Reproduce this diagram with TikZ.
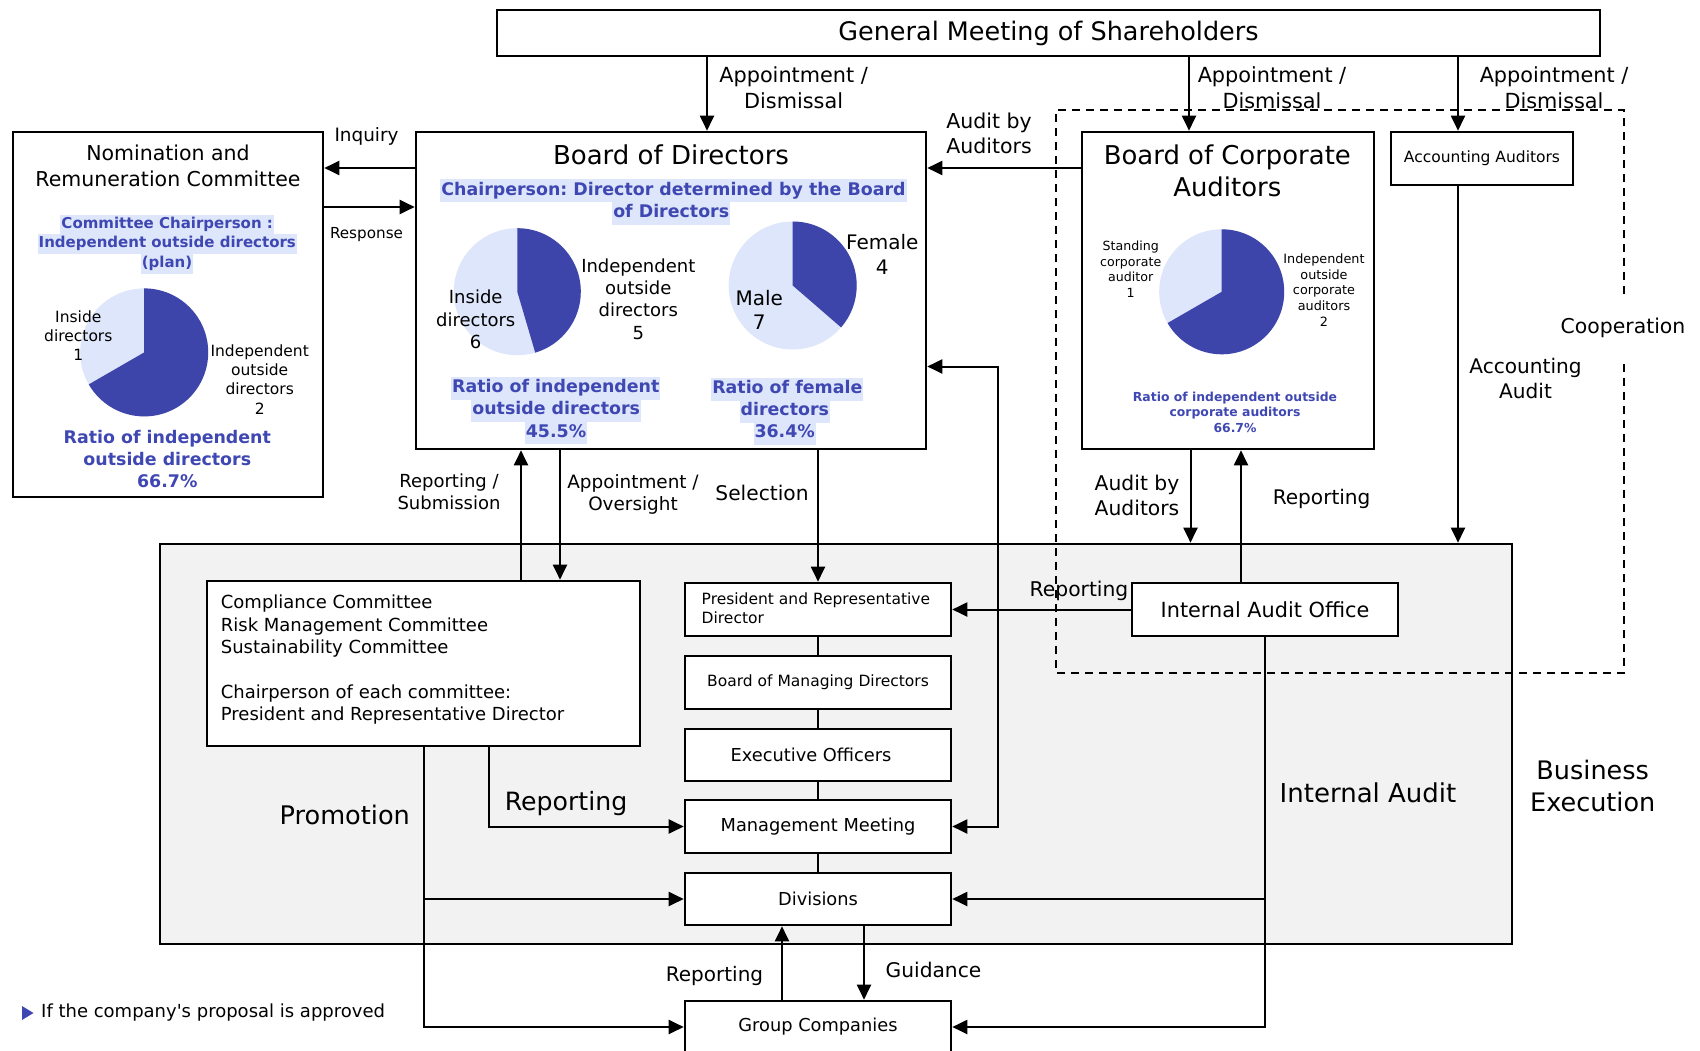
\documentclass[tikz,border=0pt]{standalone}
\usepackage{fontspec}
\setmainfont{DejaVu Sans}
\usetikzlibrary{arrows.meta}
\definecolor{pdark}{HTML}{3D45AA}
\definecolor{plight}{HTML}{DDE6FA}
\definecolor{tblue}{HTML}{3F47B2}
\definecolor{bggray}{HTML}{F2F2F2}
\newcommand\fs[2]{\fontsize{#1}{#2}\selectfont}
\frenchspacing
\begin{document}
\begin{tikzpicture}[x=1pt,y=-1pt,
  box/.style={draw=black, line width=2.6pt, fill=white, inner sep=0pt, align=center},
  lbl/.style={inner sep=0pt, align=center},
  arr/.style={line width=2pt, -{Triangle[length=15pt,width=14pt]}},
  dbl/.style={line width=2pt, {Triangle[length=15pt,width=14pt]}-{Triangle[length=15pt,width=14pt]}},
  ln/.style={line width=2pt},
  dsh/.style={line width=2.4pt, dash pattern=on 8pt off 6pt},
  hltA/.style={fill=plight, text=tblue, font=\bfseries\fs{17.4}{22.3}, inner xsep=1pt, inner ysep=2pt, text height=14pt, text depth=5pt},
  hltB/.style={fill=plight, text=tblue, font=\bfseries\fs{15}{19}, inner xsep=1pt, inner ysep=1.5pt, text height=12pt, text depth=4.5pt},
]
\useasboundingbox (0,0) rectangle (1700,1051);

% column / row helpers
\coordinate (c707) at (707,0);
\coordinate (c1189) at (1189,0);
\coordinate (c1458) at (1458,0);
\coordinate (c521) at (521,0);
\coordinate (c560) at (560,0);
\coordinate (c997) at (997.5,0);
\coordinate (c1190) at (1190.5,0);
\coordinate (c1241) at (1241,0);
\coordinate (c489) at (489,0);
\coordinate (c782) at (782,0);
\coordinate (c864) at (864,0);
\coordinate (r168) at (0,168);
\coordinate (r207) at (0,207);
\coordinate (r366) at (0,366.5);

% business execution area
\node[draw=black, line width=2.6pt, fill=bggray, minimum width=1352, minimum height=400, inner sep=0pt] (exec) at (836,744) {};

% cooperation dashed frame
\draw[dsh] (1624,364) -- (1624,673) -- (1056,673) -- (1056,110) -- (1624,110) -- (1624,295);

% boxes
\node[box, minimum width=1103, minimum height=46, font=\fs{25.5}{30}] (gms) at (1048.5,33) {General Meeting of Shareholders};
\node[box, minimum width=310, minimum height=365] (nrc) at (168,314.5) {};
\node[box, minimum width=510, minimum height=317] (bod) at (671,290.5) {};
\node[box, minimum width=292, minimum height=317] (bca) at (1228,290.5) {};
\node[box, minimum width=182, minimum height=53, font=\fs{15.5}{19}] (aa) at (1482,158.5) {Accounting Auditors};
\node[box, minimum width=433, minimum height=165] (cmt) at (423.5,663.5) {};
\node[box, minimum width=266, minimum height=53] (pres) at (818,609.5) {};
\node[box, minimum width=266, minimum height=53, font=\fs{15.5}{19}] (bmd) at (818,682.5) {Board of Managing Directors};
\node[box, minimum width=266, minimum height=52] (eo) at (818,755) {};
\node[box, minimum width=266, minimum height=53, font=\fs{17.8}{22}] (mm) at (818,826.5) {Management Meeting};
\node[box, minimum width=266, minimum height=52, font=\fs{17.8}{22}] (div) at (818,899) {Divisions};
\node[box, minimum width=266, minimum height=52, font=\fs{17.8}{22}] (gc) at (818,1027) {Group Companies};
\node[box, minimum width=266, minimum height=53, font=\fs{20.8}{25}] (iao) at (1265,609.5) {Internal Audit Office};
\node[lbl, font=\fs{17.8}{22}] (eoT) at (811,755) {Executive Officers};

% Nomination and Remuneration Committee contents
\node[lbl, font=\fs{20.5}{26.7}] (nrcT) at (168,166) {Nomination and\\Remuneration Committee};
\node[hltB] (nrcC1) at (167.2,224.5) {Committee Chairperson :};
\node[hltB] (nrcC2) at (167.3,244) {Independent outside directors};
\node[hltB] (nrcC3) at (167,264) {(plan)};
\coordinate (pnrc) at (144.2,352.4);
\fill[plight] (pnrc) circle[radius=64];
\fill[pdark] (pnrc) -- ++(-90:64) arc[start angle=-90, end angle=150, radius=64] -- cycle;
\node[lbl, font=\fs{15.5}{19.3}] (nrcL1) at (78.3,335.7) {Inside\\directors\\1};
\node[lbl, font=\fs{15.5}{19.3}] (nrcL2) at (259.7,379.2) {Independent\\outside\\directors\\2};
\node[lbl, text=tblue, font=\bfseries\fs{17.4}{22.2}] (nrcR) at (167.3,459.3) {Ratio of independent\\outside directors\\66.7\%};

% Board of Directors contents
\node[lbl, font=\fs{26}{31}] (bodT) at (671,155) {Board of Directors};
\node[hltA] (bodC1) at (673.5,191) {Chairperson: Director determined by the Board};
\node[hltA] (bodC2) at (671.2,213.5) {of Directors};
\coordinate (pbod1) at (517.3,291.7);
\fill[plight] (pbod1) circle[radius=63.5];
\fill[pdark] (pbod1) -- ++(-90:63.5) arc[start angle=-90, end angle=73.6, radius=63.5] -- cycle;
\coordinate (pbod2) at (792.7,285.5);
\fill[plight] (pbod2) circle[radius=64];
\fill[pdark] (pbod2) -- ++(-90:64) arc[start angle=-90, end angle=40.9, radius=64] -- cycle;
\node[lbl, font=\fs{18}{22.2}] (bodL1) at (475.7,319.3) {Inside\\directors\\6};
\node[lbl, font=\fs{18}{22.2}] (bodL2) at (638.3,299) {Independent\\outside\\directors\\5};
\node[lbl, font=\fs{20}{24.3}] (bodL3) at (882.3,254.5) {Female\\4};
\node[lbl, font=\fs{20}{24.3}] (bodL4) at (759.3,310) {Male\\7};
\node[hltA] (bodR1) at (555.8,388) {Ratio of independent};
\node[hltA] (bodR2) at (556.2,410.3) {outside directors};
\node[hltA] (bodR3) at (556,432.6) {45.5\%};
\node[hltA] (bodF1) at (787.3,389) {Ratio of female};
\node[hltA] (bodF2) at (784.8,411.2) {directors};
\node[hltA] (bodF3) at (784.7,433.4) {36.4\%};

% Board of Corporate Auditors contents
\node[lbl, font=\fs{25.9}{31.7}] (bcaT) at (1227.3,171) {Board of Corporate\\Auditors};
\coordinate (pbca) at (1221.7,291.8);
\fill[plight] (pbca) circle[radius=62.5];
\fill[pdark] (pbca) -- ++(-90:62.5) arc[start angle=-90, end angle=150, radius=62.5] -- cycle;
\node[lbl, font=\fs{12.6}{15.7}] (bcaL1) at (1130.7,269.2) {Standing\\corporate\\auditor\\1};
\node[lbl, font=\fs{12.8}{15.7}] (bcaL2) at (1324,290) {Independent\\outside\\corporate\\auditors\\2};
\node[lbl, text=tblue, font=\bfseries\fs{12.4}{15.8}] (bcaR) at (1235,412.3) {Ratio of independent outside\\corporate auditors\\66.7\%};

% committees text
\node[lbl, align=left, anchor=north west, font=\fs{18}{22.3}] (cmtT) at (220.7,595) {Compliance Committee\\Risk Management Committee\\Sustainability Committee\\[22.3pt]Chairperson of each committee:\\President and Representative Director};
\node[lbl, align=left, anchor=west, font=\fs{15.5}{19.5}] (presT) at (701.5,608.2) {President and Representative\\Director};

% connectors
\draw[arr] (gms.south -| c707) -- (bod.north -| c707);
\draw[arr] (gms.south -| c1189) -- (bca.north -| c1189);
\draw[arr] (gms.south -| c1458) -- (aa.north -| c1458);
\draw[arr] (bod.west |- r168) -- (nrc.east |- r168);
\draw[arr] (nrc.east |- r207) -- (bod.west |- r207);
\draw[arr] (bca.west |- r168) -- (bod.east |- r168);
\draw[arr] (cmt.north -| c521) -- (bod.south -| c521);
\draw[arr] (bod.south -| c560) -- (cmt.north -| c560);
\draw[arr] (bod.south -| pres.north) -- (pres.north);
\draw[dbl] (bod.east |- r366) -| (c997 |- mm.east) -- (mm.east);
\draw[arr] (bca.south -| c1190) -- (exec.north -| c1190);
\draw[arr] (iao.north -| c1241) -- (bca.south -| c1241);
\draw[arr] (aa.south -| c1458) -- (exec.north -| c1458);
\draw[arr] (iao.west) -- (pres.east);
\draw[ln] (pres.south) -- (bmd.north);
\draw[ln] (bmd.south) -- (eo.north);
\draw[ln] (eo.south) -- (mm.north);
\draw[ln] (mm.south) -- (div.north);
\draw[arr] (iao.south) |- (gc.east);
\draw[arr] (iao.south |- div.east) -- (div.east);
\draw[arr] (cmt.south) |- (gc.west);
\draw[arr] (cmt.south |- div.west) -- (div.west);
\draw[arr] (cmt.south -| c489) |- (mm.west);
\draw[arr] (gc.north -| c782) -- (div.south -| c782);
\draw[arr] (div.south -| c864) -- (gc.north -| c864);

% labels
\node[lbl, font=\fs{20.8}{26}] (lAD1) at (793.6,88) {Appointment /\\Dismissal};
\node[lbl, font=\fs{20.8}{26}] (lAD2) at (1272,88) {Appointment /\\Dismissal};
\node[lbl, font=\fs{20.8}{26}] (lAD3) at (1554,88) {Appointment /\\Dismissal};
\node[lbl, font=\fs{20.5}{25}] (lAud1) at (989,133) {Audit by\\Auditors};
\node[lbl, font=\fs{18.4}{22}] (lInq) at (366.5,136.6) {Inquiry};
\node[lbl, font=\fs{15.2}{19}] (lResp) at (366.5,235) {Response};
\node[lbl, font=\fs{18}{21.7}] (lRS) at (449,492) {Reporting /\\Submission};
\node[lbl, font=\fs{18.4}{21.7}] (lAO) at (633,494.5) {Appointment /\\Oversight};
\node[lbl, font=\fs{20.2}{25}] (lSel) at (762,493) {Selection};
\node[lbl, font=\fs{20.3}{25}] (lAud2) at (1137,495.5) {Audit by\\Auditors};
\node[lbl, font=\fs{20.1}{25}] (lRep1) at (1321.6,498.7) {Reporting};
\node[lbl, font=\fs{20.1}{25}] (lAA) at (1525.5,378.4) {Accounting\\Audit};
\node[lbl, font=\fs{20.4}{25}] (lCoop) at (1623,327.4) {Cooperation};
\node[lbl, font=\fs{20.3}{25}] (lRep2) at (1079,591) {Reporting};
\node[lbl, font=\fs{25.5}{32}] (lBE) at (1592.7,786) {Business\\Execution};
\node[lbl, font=\fs{26}{31}] (lIA) at (1368,792.5) {Internal Audit};
\node[lbl, font=\fs{25.6}{31}] (lProm) at (344.8,815.3) {Promotion};
\node[lbl, font=\fs{25.2}{31}] (lRep3) at (566,803.4) {Reporting};
\node[lbl, font=\fs{20}{25}] (lRep4) at (714.5,975.8) {Reporting};
\node[lbl, font=\fs{20.2}{25}] (lGuid) at (933.5,970.4) {Guidance};

% footnote
\fill[tblue] (22,1006) -- (33.5,1013) -- (22,1020) -- cycle;
\node[lbl, anchor=west, font=\fs{18}{22}] (note) at (41,1013) {If the company\textquotesingle s proposal is approved};
\end{tikzpicture}
\end{document}
